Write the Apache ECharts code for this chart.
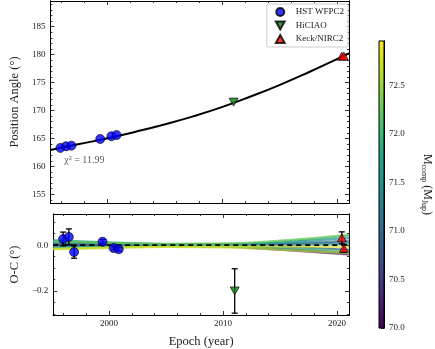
<!DOCTYPE html>
<html>
<head>
<meta charset="utf-8">
<script src="https://cdn.jsdelivr.net/npm/echarts@6/dist/echarts.min.js"></script>
<style>html,body{margin:0;padding:0;background:#fff}#c{width:435px;height:349px}</style>
</head>
<body>
<div id="c"></div>
<script>
// ---- data ----
const years_hst = [1995.97, 1996.47, 1996.93, 1999.43, 2000.40, 2000.85];
const pa_hst = [163.3, 163.6, 163.7, 164.9, 165.4, 165.6];
const oc_hst = [0.027, 0.036, -0.030, 0.015, -0.013, -0.018];
const oc_err_hst = [0.030, 0.035, 0.027, 0.010, 0.008, 0.008];
const years_hiciao = [2011.02];
const pa_hiciao = [171.5];
const oc_hiciao = [-0.200];
const oc_err_hiciao = [0.097];
const years_keck = [2020.42, 2020.60];
const pa_keck = [179.7, 179.75];
const oc_keck = [0.032, -0.014];
const oc_err_keck = [0.026, 0.017];
const curve_years = [1995.1, 1997.5, 2000, 2002.5, 2005, 2007.5, 2010, 2012.5, 2015, 2017.5, 2020, 2021.05];
const curve_pa = [162.93, 163.95, 165.0, 166.2, 167.5, 168.95, 170.6, 172.5, 174.55, 176.8, 179.2, 180.25];
const resid_years = [1995.1, 2000, 2005, 2010, 2015, 2021.05];
const resid_mass = [70.1, 70.3, 70.6, 70.9, 71.2, 71.4, 71.6, 71.8, 72.0, 72.3, 72.6, 72.8];
const resid_vals = [
  [0.002, 0.000, -0.002, -0.006, -0.020, -0.040],
  [0.005, 0.002, 0.000, -0.004, -0.015, -0.036],
  [0.012, 0.006, 0.002, 0.000, -0.006, -0.020],
  [-0.005, -0.003, -0.001, 0.000, 0.004, 0.012],
  [0.018, 0.010, 0.004, 0.002, 0.006, 0.020],
  [0.008, 0.004, 0.002, 0.003, 0.012, 0.032],
  [-0.010, -0.006, -0.003, -0.002, 0.000, 0.004],
  [0.022, 0.012, 0.005, 0.004, 0.015, 0.042],
  [-0.015, -0.008, -0.004, -0.006, -0.012, -0.025],
  [0.015, 0.010, 0.006, 0.008, 0.020, 0.045],
  [-0.018, -0.012, -0.008, -0.010, -0.020, -0.035],
  [-0.016, -0.011, -0.007, -0.006, -0.005, -0.008]
];
const chi2_label = ['χ² = 11.99'];
const chi2_pos = [1996.3, 161.1];
const x_range = [1995.1, 2021.05];
const x_major = [2000, 2010, 2020];
const x_minor = [1996, 1998, 2002, 2004, 2006, 2008, 2012, 2014, 2016, 2018];
const pa_range = [153.44, 189.6];
const pa_major = [155, 160, 165, 170, 175, 180, 185];
const pa_minor = [154,156,157,158,159,161,162,163,164,166,167,168,169,171,172,173,174,176,177,178,179,181,182,183,184,186,187,188,189];
const oc_range = [-0.305, 0.136];
const oc_major = [-0.2, 0.0];
const oc_minor = [-0.3, -0.25, -0.15, -0.1, -0.05, 0.05, 0.1];
const cb_range = [70.0, 72.96];
const cb_major = [70.0, 70.5, 71.0, 71.5, 72.0, 72.5];
const cb_minor = [70.1,70.2,70.3,70.4,70.6,70.7,70.8,70.9,71.1,71.2,71.3,71.4,71.6,71.7,71.8,71.9,72.1,72.2,72.3,72.4,72.6,72.7,72.8,72.9];

// ---- style helpers ----
const FONT = 'Liberation Serif';
const viridis = ['#440154','#482475','#414487','#355f8d','#2a788e','#21918c','#22a884','#44bf70','#7ad151','#bddf26','#fde725'];
function hex(c){return [parseInt(c.slice(1,3),16),parseInt(c.slice(3,5),16),parseInt(c.slice(5,7),16)];}
function vir(t){
  t=Math.max(0,Math.min(1,t)); const f=t*10, i=Math.min(9,Math.floor(f)), r=f-i;
  const a=hex(viridis[i]), b=hex(viridis[i+1]);
  return 'rgb('+a.map((v,k)=>Math.round(v+(b[k]-v)*r)).join(',')+')';
}
const downTri = 'path://M0,0 L10,0 L5,9 Z';
const upTri = 'path://M5,0 L10,9 L0,9 Z';

const xAxes=[], yAxes=[];
function ax(list, grid, pos, range, ticks, len, extra){
  const a = Object.assign({
    type:'value', gridIndex:grid, position:pos, min:range[0], max:range[1],
    axisLine:{show:true, onZero:false, lineStyle:{color:'#000', width:1}},
    axisTick:{show:true, inside:true, length:len, customValues:ticks, lineStyle:{color:'#000', width:0.8}},
    axisLabel:{show:false},
    splitLine:{show:false}
  }, extra||{});
  list.push(a); return list.length-1;
}
function lbl(vals, fmt, margin){
  return {show:true, customValues:vals, formatter:fmt, fontFamily:FONT, fontSize:9, color:'#222', margin:margin};
}
const fmt1 = v => (v<0?'\u2212':'')+Math.abs(v).toFixed(1);

// grid 0 (top panel)
const X0 = ax(xAxes,0,'bottom',x_range,x_major,4);
ax(xAxes,0,'bottom',x_range,x_minor,2);
ax(xAxes,0,'top',x_range,x_major,4);
ax(xAxes,0,'top',x_range,x_minor,2);
const Y0 = ax(yAxes,0,'left',pa_range,pa_major,4,{
  axisLabel:lbl(pa_major, v=>String(Math.round(v)), 5),
  name:'Position Angle (°)', nameLocation:'middle', nameGap:26,
  nameTextStyle:{fontFamily:FONT, fontSize:12.5, color:'#222'}
});
ax(yAxes,0,'left',pa_range,pa_minor,2);
ax(yAxes,0,'right',pa_range,pa_major,4);
ax(yAxes,0,'right',pa_range,pa_minor,2);
// grid 1 (residuals)
const X1 = ax(xAxes,1,'bottom',x_range,x_major,4,{
  axisLabel:lbl(x_major, v=>String(Math.round(v)), 4),
  name:'Epoch (year)', nameLocation:'middle', nameGap:20,
  nameTextStyle:{fontFamily:FONT, fontSize:12.5, color:'#222'}
});
ax(xAxes,1,'bottom',x_range,x_minor,2);
ax(xAxes,1,'top',x_range,x_major,4);
ax(xAxes,1,'top',x_range,x_minor,2);
const Y1 = ax(yAxes,1,'left',oc_range,oc_major,4,{
  axisLabel:lbl(oc_major, fmt1, 5),
  name:'O-C (°)', nameLocation:'middle', nameGap:26,
  nameTextStyle:{fontFamily:FONT, fontSize:12.5, color:'#222'}
});
ax(yAxes,1,'left',oc_range,oc_minor,2);
ax(yAxes,1,'right',oc_range,oc_major,4);
ax(yAxes,1,'right',oc_range,oc_minor,2);
// grid 2 (colorbar)
const X2 = ax(xAxes,2,'bottom',[0,1],[],0,{axisLine:{show:false}, axisTick:{show:false}});
const Y2 = ax(yAxes,2,'right',cb_range,cb_major,3,{
  axisLabel:lbl(cb_major, v=>v.toFixed(1), 5),
  name:'{n|M}{s|comp}{n| (M}{s|Jup}{n|)}', nameLocation:'middle', nameGap:36, nameRotate:-90,
  nameTextStyle:{fontFamily:FONT, color:'#222', rich:{
    n:{fontFamily:FONT, fontSize:12, color:'#222', lineHeight:14, verticalAlign:'middle'},
    s:{fontFamily:FONT, fontSize:8, color:'#222', lineHeight:14, verticalAlign:'bottom', padding:[6,0,0,0]}
  }}
});
ax(yAxes,2,'right',cb_range,cb_minor,1.5);
ax(yAxes,2,'left',cb_range,[],0);

const series = [];
// residual model lines
resid_vals.forEach((vals,i)=>{
  series.push({type:'line', xAxisIndex:X1, yAxisIndex:Y1, smooth:true, symbol:'none', silent:true,
    data: resid_years.map((y,k)=>[y, vals[k]]),
    lineStyle:{color:vir((resid_mass[i]-cb_range[0])/(cb_range[1]-cb_range[0])), width:2.2, opacity:0.7}, z:1});
});
// zero line
series.push({type:'line', xAxisIndex:X1, yAxisIndex:Y1, symbol:'none', silent:true,
  data:[[x_range[0],0],[x_range[1],0]], lineStyle:{color:'#000', width:1.6, type:[5,4]}, z:3});
// model curve
series.push({type:'line', xAxisIndex:X0, yAxisIndex:Y0, smooth:true, symbol:'none', silent:true,
  data: curve_years.map((y,k)=>[y, curve_pa[k]]), lineStyle:{color:'#000', width:2}, z:2});
// error bars
function errSeries(xs, ys, es){
  return {type:'custom', xAxisIndex:X1, yAxisIndex:Y1, z:4, silent:true,
    data: xs.map((x,k)=>[x, ys[k], es[k]]),
    renderItem:(params, api)=>{
      const x=api.value(0), y=api.value(1), e=api.value(2);
      const hi=api.coord([x,y+e]), lo=api.coord([x,y-e]);
      const st={stroke:'#000', lineWidth:1.3};
      return {type:'group', children:[
        {type:'line', shape:{x1:hi[0],y1:hi[1],x2:lo[0],y2:lo[1]}, style:st},
        {type:'line', shape:{x1:hi[0]-3,y1:hi[1],x2:hi[0]+3,y2:hi[1]}, style:st},
        {type:'line', shape:{x1:lo[0]-3,y1:lo[1],x2:lo[0]+3,y2:lo[1]}, style:st}
      ]};
    }};
}
series.push(errSeries(years_hst, oc_hst, oc_err_hst));
series.push(errSeries(years_hiciao, oc_hiciao, oc_err_hiciao));
series.push(errSeries(years_keck, oc_keck, oc_err_keck));
// markers
const sets = [
  {name:'HST WFPC2', sym:'circle', size:9, color:'#0000ff', xs:years_hst, pa:pa_hst, oc:oc_hst},
  {name:'HiCIAO', sym:downTri, size:[9,8], color:'#0a7a0a', xs:years_hiciao, pa:pa_hiciao, oc:oc_hiciao},
  {name:'Keck/NIRC2', sym:upTri, size:[9,8], color:'#ff0000', xs:years_keck, pa:pa_keck, oc:oc_keck}
];
sets.forEach(s=>{
  const it={color:s.color, borderColor:'#000', borderWidth:0.8};
  series.push({type:'scatter', name:s.name, xAxisIndex:X0, yAxisIndex:Y0, symbol:s.sym, symbolSize:s.size,
    data:s.xs.map((x,k)=>[x, s.pa[k]]), itemStyle:it, z:5});
  series.push({type:'scatter', name:s.name, xAxisIndex:X1, yAxisIndex:Y1, symbol:s.sym, symbolSize:s.size,
    data:s.xs.map((x,k)=>[x, s.oc[k]]), itemStyle:it, z:5});
});
// chi2 annotation
series.push({type:'scatter', xAxisIndex:X0, yAxisIndex:Y0, symbolSize:0, silent:true,
  data:[[chi2_pos[0], chi2_pos[1]]],
  label:{show:true, position:'right', distance:0, formatter:chi2_label[0], fontFamily:FONT, fontSize:10, color:'#333'}});
// colorbar
series.push({type:'custom', xAxisIndex:X2, yAxisIndex:Y2, silent:true, data:[[0, cb_range[0], cb_range[1]]],
  renderItem:(params, api)=>{
    const p0=api.coord([0, api.value(1)]), p1=api.coord([1, api.value(2)]);
    return {type:'rect', shape:{x:p0[0], y:p1[1], width:p1[0]-p0[0], height:p0[1]-p1[1]},
      style:{fill:new echarts.graphic.LinearGradient(0,1,0,0, viridis.map((c,i)=>({offset:i/10, color:c}))), stroke:'#000', lineWidth:1}};
  }});

const chart = echarts.init(document.getElementById('c'), null, {renderer:'canvas'});
chart.setOption({
  animation:false,
  backgroundColor:'#fff',
  grid:[
    {left:42, right:86, top:1, height:202},
    {left:42, right:86, top:214, height:103},
    {left:379, width:13, top:41, height:287}
  ],
  xAxis:xAxes, yAxis:yAxes,
  legend:{
    data:sets.map(s=>({name:s.name, icon:s.sym==='circle'?'circle':s.sym})),
    orient:'vertical', right:87, top:4, itemWidth:9, itemHeight:8, itemGap:3.5,
    padding:[3,4,3,8], borderColor:'#ccc', borderWidth:1, borderRadius:2, backgroundColor:'rgba(255,255,255,0.85)',
    textStyle:{fontFamily:FONT, fontSize:9, color:'#222', padding:[0,0,0,6]},
    selectedMode:false
  },
  series:series
});
</script>
</body>
</html>
